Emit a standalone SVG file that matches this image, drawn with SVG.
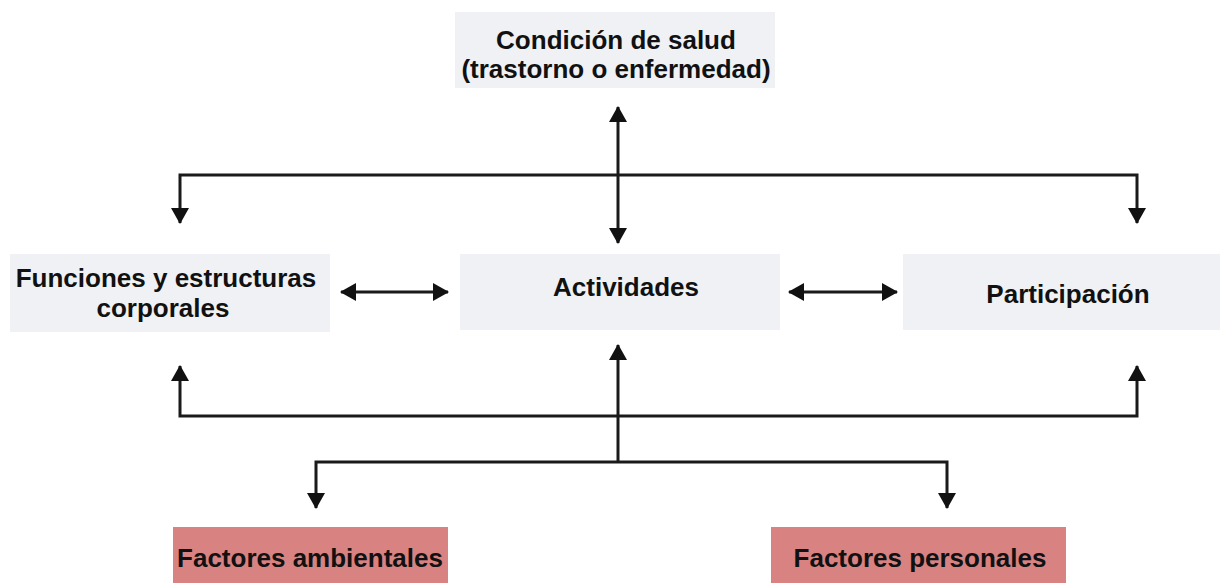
<svg xmlns="http://www.w3.org/2000/svg" width="1220" height="583" viewBox="0 0 1220 583">
<defs>
<style>
.box{fill:#eff1f4}
.red{fill:#d98282}
.t{font-family:"Liberation Sans",Arial,sans-serif;font-weight:bold;font-size:26px;fill:#111;text-anchor:middle}
.c{stroke:#1a1a1a;stroke-width:3;fill:none}
</style>
<marker id="ah" viewBox="0 0 16 18" refX="15" refY="9" markerWidth="16" markerHeight="18" markerUnits="userSpaceOnUse" orient="auto-start-reverse">
<path d="M0,0 L16,9 L0,18 Z" fill="#111"/>
</marker>
</defs>
<rect width="1220" height="583" fill="#ffffff"/>
<g id="connectors">
<line class="c" x1="618" y1="107" x2="618" y2="243" marker-start="url(#ah)" marker-end="url(#ah)"/>
<polyline class="c" points="180,223 180,175 1137,175 1137,223" marker-start="url(#ah)" marker-end="url(#ah)"/>
<line class="c" x1="341" y1="292" x2="448" y2="292" marker-start="url(#ah)" marker-end="url(#ah)"/>
<line class="c" x1="789" y1="292" x2="897" y2="292" marker-start="url(#ah)" marker-end="url(#ah)"/>
<polyline class="c" points="180,366 180,416 1137,416 1137,366" marker-start="url(#ah)" marker-end="url(#ah)"/>
<line class="c" x1="618" y1="462" x2="618" y2="345" marker-end="url(#ah)"/>
<polyline class="c" points="316,508 316,462 947,462 947,508" marker-start="url(#ah)" marker-end="url(#ah)"/>
</g>
<g id="condicion">
<rect class="box" x="455" y="12" width="320" height="76"/>
<text class="t" x="616" y="49">Condición de salud</text>
<text class="t" x="616" y="78">(trastorno o enfermedad)</text>
</g>
<g id="funciones">
<rect class="box" x="10" y="254" width="320" height="78"/>
<text class="t" x="166" y="287">Funciones y estructuras</text>
<text class="t" x="163" y="317">corporales</text>
</g>
<g id="actividades">
<rect class="box" x="460" y="254" width="320" height="76"/>
<text class="t" x="626" y="296">Actividades</text>
</g>
<g id="participacion">
<rect class="box" x="903" y="254" width="317" height="76"/>
<text class="t" x="1068" y="303">Participación</text>
</g>
<g id="ambientales">
<rect class="red" x="173" y="527" width="275" height="56"/>
<text class="t" x="310" y="567">Factores ambientales</text>
</g>
<g id="personales">
<rect class="red" x="771" y="527" width="295" height="56"/>
<text class="t" x="920" y="567">Factores personales</text>
</g>
</svg>
